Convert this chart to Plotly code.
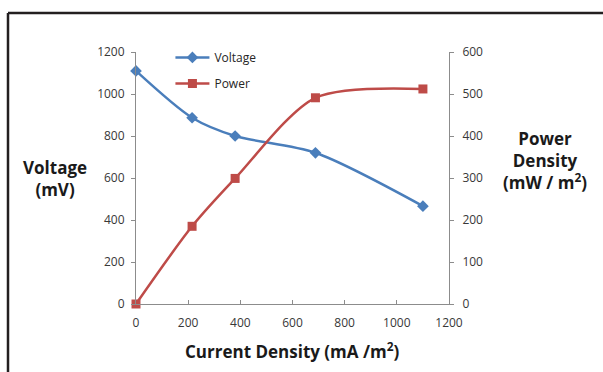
import plotly.graph_objects as go

current = [0, 215, 380, 688, 1100]
voltage = [1110, 887, 800, 720, 466]
power = [0, 185, 299, 491, 512]

x_ticks = [0, 200, 400, 600, 800, 1000, 1200]
y1_ticks = [0, 200, 400, 600, 800, 1000, 1200]
y2_ticks = [0, 100, 200, 300, 400, 500, 600]

blue = "#4A7EBB"
red = "#BE4B48"
axis_gray = "#8C8C8C"
FONT = "Open Sans, Lato, sans-serif"
tick_font = dict(family=FONT, size=12, color="#383838")

fig = go.Figure()
fig.add_trace(go.Scatter(
    x=current, y=voltage, name="Voltage", mode="lines+markers",
    line=dict(color=blue, width=2.5, shape="spline", smoothing=0.8),
    marker=dict(symbol="diamond", size=9, color=blue),
    legendgroup="v", cliponaxis=False,
))
fig.add_trace(go.Scatter(
    x=current, y=power, name="Power", mode="lines+markers", yaxis="y2",
    line=dict(color=red, width=2.5, shape="spline", smoothing=0.8),
    marker=dict(symbol="square", size=9, color=red),
    legendgroup="p", cliponaxis=False,
))

fig.update_layout(
    width=603, height=372,
    margin=dict(l=136, r=154, t=52, b=68),
    paper_bgcolor="white", plot_bgcolor="white",
    showlegend=True,
    legend=dict(
        x=0.11, y=1.036, xanchor="left", yanchor="top",
        bgcolor="rgba(0,0,0,0)", font=dict(family=FONT, size=12, color="#262626"),
        itemwidth=34, tracegroupgap=7, traceorder="grouped",
    ),
    xaxis=dict(
        range=[0, 1200], tickvals=x_ticks, ticktext=[str(v) for v in x_ticks],
        showgrid=False, zeroline=False, showline=True, linecolor=axis_gray, linewidth=1,
        ticks="inside", ticklen=4, tickcolor=axis_gray, tickfont=tick_font,
        ticklabelstandoff=8,
    ),
    yaxis=dict(
        range=[0, 1200], tickvals=y1_ticks, ticktext=[str(v) for v in y1_ticks],
        showgrid=False, zeroline=False, showline=True, linecolor=axis_gray, linewidth=1,
        ticks="outside", ticklen=4, tickcolor=axis_gray, tickfont=tick_font,
        ticklabelstandoff=4,
    ),
    yaxis2=dict(
        range=[0, 600], tickvals=y2_ticks, ticktext=[str(v) for v in y2_ticks],
        overlaying="y", side="right",
        showgrid=False, zeroline=False, showline=True, linecolor=axis_gray, linewidth=1,
        ticks="outside", ticklen=4, tickcolor=axis_gray, tickfont=tick_font,
        ticklabelstandoff=6,
    ),
)

bold = dict(family=FONT, size=17, color="#1a1a1a")
fig.add_annotation(text="<b>Voltage<br>(mV)</b>", xref="paper", yref="paper",
                   x=(55 - 136) / 313, y=(304 - 178) / 252, showarrow=False, font=bold,
                   xanchor="center", yanchor="middle")
fig.add_annotation(text="<b>Power<br>Density<br>(mW / m<sup>2</sup>)</b>", xref="paper", yref="paper",
                   x=(545 - 136) / 313, y=(304 - 160) / 252, showarrow=False, font=bold,
                   xanchor="center", yanchor="middle")
fig.add_annotation(text="<b>Current Density (mA /m<sup>2</sup>)</b>", xref="paper", yref="paper",
                   x=(292 - 136) / 313, y=(304 - 350) / 252, showarrow=False, font=bold,
                   xanchor="center", yanchor="middle")

# outer frame (top and left edges)
fx0 = (8 - 136) / 313
fy_top = (304 - 13) / 252
fig.add_shape(type="line", xref="paper", yref="paper", x0=fx0, x1=fx0, y0=-0.4, y1=fy_top,
              line=dict(color="#231f20", width=2.5))
fig.add_shape(type="line", xref="paper", yref="paper", x0=fx0, x1=1.6, y0=fy_top, y1=fy_top,
              line=dict(color="#231f20", width=2.5))

fig.write_html("out.html", config={"displayModeBar": False},
               post_script="document.body.style.margin='0';document.body.style.overflow='hidden';")
